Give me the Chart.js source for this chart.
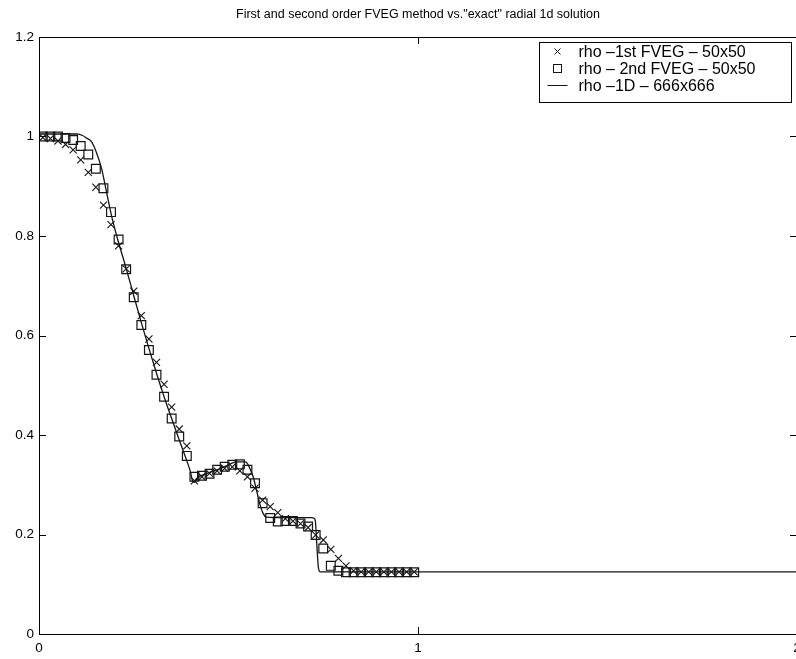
<!DOCTYPE html>
<html>
<head>
<meta charset="utf-8">
<title>FVEG vs exact</title>
<script src="https://cdn.jsdelivr.net/npm/chart.js@4.4.1/dist/chart.umd.min.js"></script>
<style>
  body { margin: 0; overflow: hidden; background: #fff; }
  canvas { display: block; }
</style>
</head>
<body>
<canvas id="thechart" width="830" height="659"></canvas>
<script>
var titleText = 'First and second order FVEG method vs."exact" radial 1d solution';
var seriesNames = ['rho \u20131st FVEG \u2013 50x50', 'rho \u2013 2nd FVEG \u2013 50x50', 'rho \u20131D \u2013 666x666'];
var xTicks = [0, 1, 2];
var yTicks = [0, 0.2, 0.4, 0.6, 0.8, 1, 1.2];

// cell centres of the 50x50 runs
var xCells = [0.01, 0.03, 0.05, 0.07, 0.09, 0.11, 0.13, 0.15, 0.17, 0.19,
  0.21, 0.23, 0.25, 0.27, 0.29, 0.31, 0.33, 0.35, 0.37, 0.39,
  0.41, 0.43, 0.45, 0.47, 0.49, 0.51, 0.53, 0.55, 0.57, 0.59,
  0.61, 0.63, 0.65, 0.67, 0.69, 0.71, 0.73, 0.75, 0.77, 0.79,
  0.81, 0.83, 0.85, 0.87, 0.89, 0.91, 0.93, 0.95, 0.97, 0.99];

// crosses, 1st order
var rhoFirst = [0.998, 0.996, 0.991, 0.984, 0.973, 0.953, 0.928, 0.898, 0.862, 0.823,
  0.780, 0.734, 0.689, 0.640, 0.593, 0.546, 0.502, 0.456, 0.412, 0.378,
  0.308, 0.316, 0.323, 0.328, 0.333, 0.336, 0.328, 0.316, 0.293, 0.269,
  0.256, 0.244, 0.232, 0.227, 0.222, 0.214, 0.199, 0.189, 0.170, 0.152,
  0.137, 0.127, 0.125, 0.125, 0.125, 0.125, 0.125, 0.125, 0.125, 0.125];

// squares, 2nd order
var rhoSecond = [1.0, 1.0, 1.0, 0.997, 0.993, 0.981, 0.964, 0.935, 0.896, 0.848,
  0.793, 0.733, 0.677, 0.621, 0.571, 0.521, 0.477, 0.433, 0.397, 0.358,
  0.316, 0.318, 0.322, 0.330, 0.336, 0.340, 0.341, 0.330, 0.303, 0.263,
  0.233, 0.226, 0.227, 0.227, 0.222, 0.216, 0.199, 0.172, 0.137, 0.127,
  0.124, 0.124, 0.124, 0.124, 0.124, 0.124, 0.124, 0.124, 0.124, 0.124];

// the fine 1d reference curve (break points)
var xExact = [0, 0.10, 0.115, 0.125, 0.138, 0.151, 0.165, 0.178, 0.191, 0.208,
  0.23, 0.25, 0.27, 0.29, 0.31, 0.33, 0.35, 0.37, 0.39, 0.40,
  0.405, 0.41, 0.42, 0.44, 0.47, 0.50, 0.52, 0.545, 0.552, 0.558,
  0.565, 0.574, 0.582, 0.591, 0.60, 0.65, 0.72, 0.725, 0.729, 0.733,
  0.737, 0.742, 1.0, 2.0];
var rhoExact = [1.005, 1.005, 1.002, 0.997, 0.99, 0.969, 0.936, 0.889, 0.842, 0.792,
  0.735, 0.68, 0.626, 0.574, 0.524, 0.477, 0.433, 0.39, 0.348, 0.325,
  0.308, 0.305, 0.315, 0.322, 0.33, 0.34, 0.346, 0.346, 0.34, 0.33,
  0.316, 0.289, 0.263, 0.243, 0.235, 0.234, 0.234, 0.233, 0.228, 0.18,
  0.135, 0.125, 0.125, 0.125];

var ink = '#151515';
var fontName = '"Liberation Sans", Arial, sans-serif';

function toPoints(xs, ys) {
  var pts = [];
  for (var i = 0; i < xs.length; i++) {
    pts.push({x: xs[i], y: ys[i]});
  }
  return pts;
}

// box round the plot with ticks pointing in, like matlab does it
var frameAndLegend = {
  id: 'frameAndLegend',
  afterDraw: function(chart) {
    var ctx = chart.ctx;
    var a = chart.chartArea;
    var xs = chart.scales.x;
    var ys = chart.scales.y;
    var tl = 7;
    ctx.save();
    ctx.strokeStyle = '#000';
    ctx.lineWidth = 1;
    ctx.strokeRect(Math.round(a.left) + 0.5, Math.round(a.top) + 0.5,
      Math.round(a.right - a.left), Math.round(a.bottom - a.top));
    ctx.beginPath();
    xTicks.forEach(function(v) {
      var px = Math.round(xs.getPixelForValue(v)) + 0.5;
      ctx.moveTo(px, a.bottom); ctx.lineTo(px, a.bottom - tl);
      ctx.moveTo(px, a.top); ctx.lineTo(px, a.top + tl);
    });
    yTicks.forEach(function(v) {
      var py = Math.round(ys.getPixelForValue(v)) + 0.5;
      ctx.moveTo(a.left, py); ctx.lineTo(a.left + tl, py);
      ctx.moveTo(a.right, py); ctx.lineTo(a.right - tl, py);
    });
    ctx.stroke();

    // legend box in the top right corner
    var bx = 539.5, by = 42.5, bw = 252, bh = 60;
    ctx.fillStyle = '#fff';
    ctx.fillRect(bx, by, bw, bh);
    ctx.strokeRect(bx, by, bw, bh);
    ctx.font = '16px ' + fontName;
    ctx.textBaseline = 'middle';
    ctx.textAlign = 'left';
    var rowY = [by + 9, by + 26, by + 43];
    var mx = bx + 18;
    ctx.strokeStyle = ink;
    ctx.lineWidth = 1;
    // cross
    ctx.beginPath();
    ctx.moveTo(mx - 3, rowY[0] - 3); ctx.lineTo(mx + 3, rowY[0] + 3);
    ctx.moveTo(mx + 3, rowY[0] - 3); ctx.lineTo(mx - 3, rowY[0] + 3);
    ctx.stroke();
    // square
    ctx.strokeRect(mx - 4, rowY[1] - 4, 8, 8);
    // line
    ctx.beginPath();
    ctx.moveTo(mx - 10, rowY[2]); ctx.lineTo(mx + 10, rowY[2]);
    ctx.stroke();
    ctx.fillStyle = '#000';
    for (var i = 0; i < seriesNames.length; i++) {
      ctx.fillText(seriesNames[i], bx + 39, rowY[i] + 1);
    }
    ctx.restore();
  }
};

Chart.defaults.color = '#000';
Chart.defaults.font.family = fontName;

var theChart = new Chart(document.getElementById('thechart').getContext('2d'), {
  type: 'scatter',
  data: {
    datasets: [
      {
        label: seriesNames[0],
        data: toPoints(xCells, rhoFirst),
        pointStyle: 'crossRot',
        pointRadius: 5,
        borderColor: ink,
        backgroundColor: ink,
        borderWidth: 1.1,
        showLine: false
      },
      {
        label: seriesNames[1],
        data: toPoints(xCells, rhoSecond),
        pointStyle: 'rect',
        pointRadius: 6.2,
        borderColor: ink,
        backgroundColor: 'rgba(0,0,0,0)',
        borderWidth: 1.2,
        showLine: false
      },
      {
        label: seriesNames[2],
        data: toPoints(xExact, rhoExact),
        showLine: true,
        pointRadius: 0,
        borderColor: ink,
        borderWidth: 1.3,
        cubicInterpolationMode: 'monotone',
        fill: false
      }
    ]
  },
  options: {
    responsive: false,
    animation: false,
    layout: { padding: { left: 0, right: 33, top: 0, bottom: 0 } },
    plugins: {
      legend: { display: false },
      tooltip: { enabled: false },
      title: {
        display: true,
        fullSize: false,
        text: titleText,
        color: '#000',
        font: { size: 12.5, weight: 'normal', family: fontName },
        padding: { top: 7, bottom: 15 }
      }
    },
    scales: {
      x: {
        type: 'linear',
        min: 0,
        max: 2,
        afterBuildTicks: function(scale) {
          scale.ticks = xTicks.map(function(v) { return {value: v}; });
        },
        afterFit: function(scale) { scale.height = 25; },
        grid: { display: false, drawTicks: false },
        border: { display: false },
        ticks: { padding: 6, maxRotation: 0, font: { size: 13.5 } }
      },
      y: {
        type: 'linear',
        min: 0,
        max: 1.2,
        afterBuildTicks: function(scale) {
          scale.ticks = yTicks.map(function(v) { return {value: v}; });
        },
        afterFit: function(scale) { scale.width = 39; },
        grid: { display: false, drawTicks: false },
        border: { display: false },
        ticks: {
          padding: 5,
          font: { size: 13.5 },
          callback: function(value) { return String(Math.round(value * 10) / 10); }
        }
      }
    }
  },
  plugins: [frameAndLegend]
});
</script>
</body>
</html>
